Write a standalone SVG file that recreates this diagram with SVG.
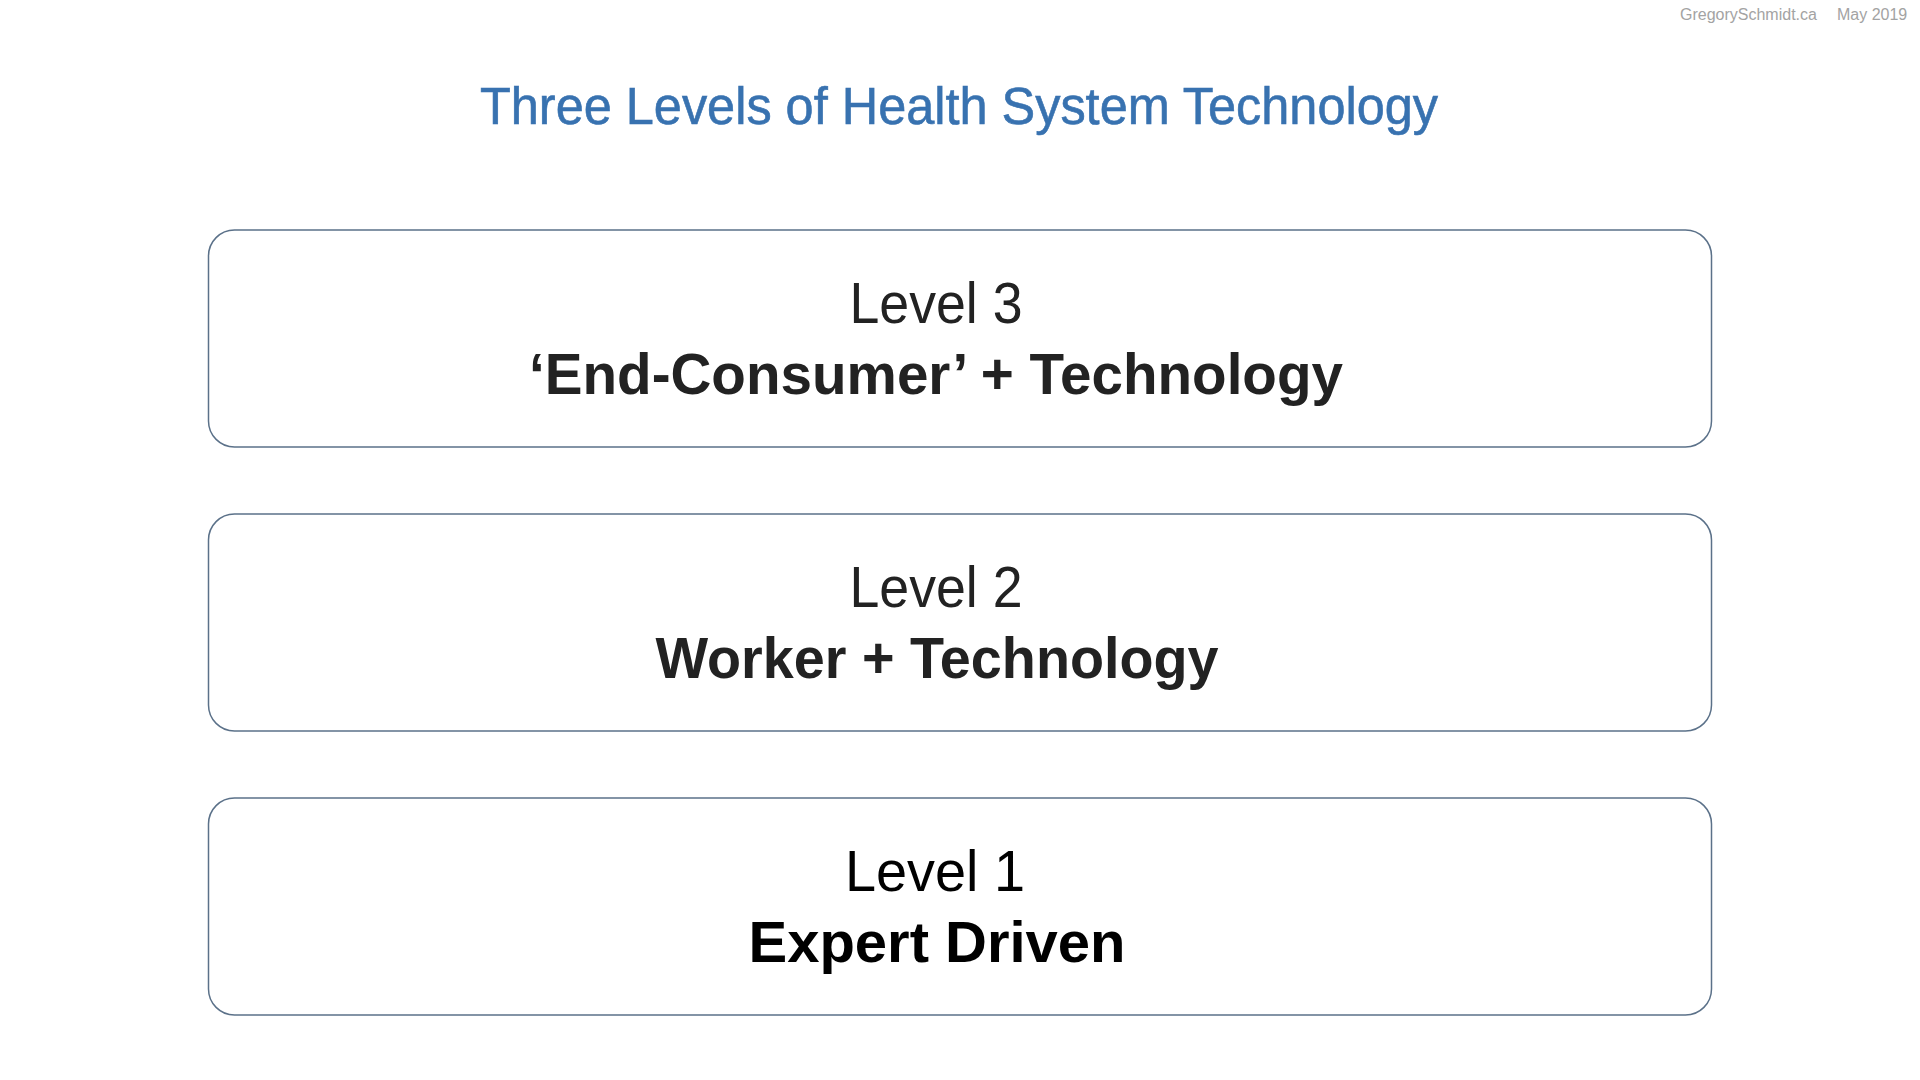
<svg xmlns="http://www.w3.org/2000/svg" width="1920" height="1080" viewBox="0 0 1920 1080">
<style>
.hdr{font-family:"Liberation Sans",Arial,sans-serif;font-size:16px;fill:#a3a3a3}
.title{font-family:"Liberation Sans",Arial,sans-serif;font-size:51px;fill:#3872b0;stroke:#3872b0;stroke-width:0.6;text-anchor:middle}
.box{fill:#ffffff;stroke:#5b7189;stroke-width:1.5}
.lvl{font-family:"Liberation Sans",Arial,sans-serif;font-size:58px;fill:#222222;text-anchor:middle}
.main{font-family:"Liberation Sans",Arial,sans-serif;font-size:58px;font-weight:bold;fill:#222222;text-anchor:middle}
.dark{fill:#000000}
</style>
<rect width="1920" height="1080" fill="#ffffff"/>
<text class="hdr" x="1680" y="20">GregorySchmidt.ca</text>
<text class="hdr" x="1837" y="20">May 2019</text>
<text class="title" x="959" y="124" textLength="958" lengthAdjust="spacingAndGlyphs">Three Levels of Health System Technology</text>
<g id="level3">
<rect class="box" x="208.5" y="230" width="1503" height="217" rx="26"/>
<text class="lvl" x="936" y="323" textLength="173" lengthAdjust="spacingAndGlyphs">Level 3</text>
<text class="main" x="936" y="394" textLength="814" lengthAdjust="spacingAndGlyphs">‘End-Consumer’ + Technology</text>
</g>
<g id="level2">
<rect class="box" x="208.5" y="514" width="1503" height="217" rx="26"/>
<text class="lvl" x="936" y="607" textLength="173" lengthAdjust="spacingAndGlyphs">Level 2</text>
<text class="main" x="937" y="678" textLength="563" lengthAdjust="spacingAndGlyphs">Worker + Technology</text>
</g>
<g id="level1">
<rect class="box" x="208.5" y="798" width="1503" height="217" rx="26"/>
<text class="lvl dark" x="935" y="891" textLength="180" lengthAdjust="spacingAndGlyphs">Level 1</text>
<text class="main dark" x="937" y="962" textLength="377" lengthAdjust="spacingAndGlyphs">Expert Driven</text>
</g>
<g id="connectors"></g>
</svg>
